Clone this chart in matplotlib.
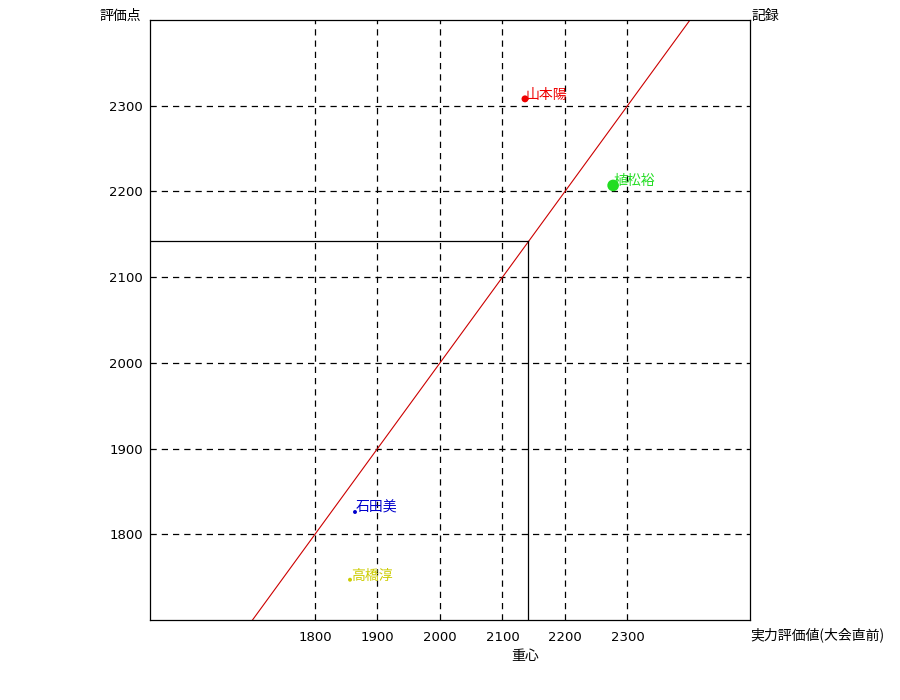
import matplotlib
matplotlib.use("Agg")
import matplotlib.pyplot as plt

plt.rcParams['font.family'] = ['DejaVu Sans', 'Noto Sans CJK JP']

names = ["山本陽", "植松裕", "石田美", "高橋淳"]
x_vals = [2136, 2277, 1864, 1856]
y_vals = [2308, 2207, 1826, 1747]
sizes = [25, 70, 8, 8]
colors = ["#ee0000", "#22dd22", "#0000cc", "#cccc00"]
centroid_x = 2141
centroid_y = 2142
ticks = [1800, 1900, 2000, 2100, 2200, 2300]
xlim = (1536, 2496)
ylim = (1700, 2400)

fig = plt.figure(figsize=(9, 7), dpi=100)
ax = fig.add_axes([150/900, 80/700, 600/900, 600/700])
ax.set_xlim(*xlim)
ax.set_ylim(*ylim)

for t in ticks:
    ax.axvline(t, color="black", lw=0.9, ls=(0, (5, 4)), zorder=1)
    ax.axhline(t, color="black", lw=0.9, ls=(0, (5, 4)), zorder=1)

ax.axline((xlim[0], xlim[0]), slope=1, color="#cc0000", lw=0.8, zorder=2)

ax.plot([xlim[0], centroid_x], [centroid_y, centroid_y], color="black", lw=0.9, zorder=3)
ax.plot([centroid_x, centroid_x], [ylim[0], centroid_y], color="black", lw=0.9, zorder=3)

jp = ['Noto Sans CJK JP', 'DejaVu Sans']
for n, x, y, s, c in zip(names, x_vals, y_vals, sizes, colors):
    ax.scatter([x], [y], s=s, color=c, zorder=4, edgecolors="none")
    ax.annotate(n, (x, y), xytext=(0.5, 3), textcoords="offset points",
                color=c, fontsize=10, ha="left", va="center", family=jp)

ax.set_xticks(ticks)
ax.set_yticks(ticks)
ax.set_xticklabels([str(t) for t in ticks], fontsize=9.5)
ax.set_yticklabels([str(t) for t in ticks], fontsize=9.5)
ax.tick_params(axis="y", length=0, pad=5)
ax.tick_params(axis="x", length=0, pad=8)
for sp in ax.spines.values():
    sp.set_linewidth(0.9)

fig.text(120/900, 1 - 16/700, "評価点", fontsize=10, ha="center", va="center", family=jp)
fig.text(751/900, 1 - 16/700, "記録", fontsize=10, ha="left", va="center", family=jp)
fig.text(750/900, 1 - 635/700, "実力評価値(大会直前)", fontsize=10, ha="left", va="center", family=jp)
ax.annotate("重心", (centroid_x, ylim[0]), xytext=(-2, -26), textcoords="offset points",
            fontsize=10, ha="center", va="center", family=jp)

fig.savefig("out.png", dpi=100)
